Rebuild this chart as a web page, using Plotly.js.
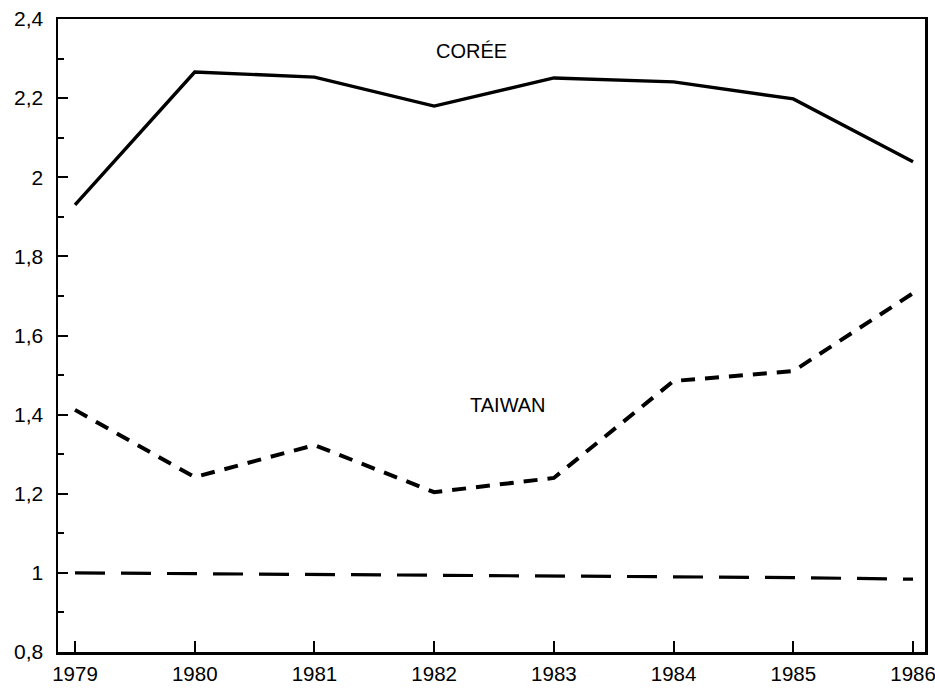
<!DOCTYPE html>
<html><head><meta charset="utf-8">
<script src="https://cdn.plot.ly/plotly-3.0.1.min.js"></script>
<style>html,body{margin:0;padding:0;background:#fff}#chart{width:935px;height:691px}</style>
</head><body><div id="chart"></div>
<script>
const years = [1979, 1980, 1981, 1982, 1983, 1984, 1985, 1986];
const coree = [1.930, 2.266, 2.253, 2.180, 2.251, 2.241, 2.198, 2.039];
const taiwan = [1.412, 1.242, 1.323, 1.204, 1.240, 1.485, 1.510, 1.707];
const reference = [1.000, 0.998, 0.996, 0.994, 0.992, 0.990, 0.988, 0.984];
const yTicks = [0.8, 1, 1.2, 1.4, 1.6, 1.8, 2, 2.2, 2.4];
const labels = [
  {text: 'CORÉE', x: 1982.31, y: 2.32},
  {text: 'TAIWAN', x: 1982.62, y: 1.425}
];

const traces = [
  {x: years, y: coree, mode: 'lines', line: {color: '#000', width: 3.4}},
  {x: years, y: taiwan, mode: 'lines', line: {color: '#000', width: 4, dash: '14px,10px'}},
  {x: years, y: reference, mode: 'lines', line: {color: '#000', width: 3.2, dash: '30px,16px'}}
];

const fam = 'Liberation Sans, Arial, sans-serif';
const layout = {
  width: 935, height: 691,
  margin: {l: 58, r: 10, t: 19, b: 39},
  paper_bgcolor: '#fff', plot_bgcolor: '#fff',
  showlegend: false,
  separators: ', ',
  font: {family: fam, size: 20, color: '#000'},
  xaxis: {
    range: [1978.858, 1986.1], tickvals: years, ticktext: years.map(String),
    ticks: 'inside', ticklen: 11, tickwidth: 2, tickcolor: '#000',
    showline: true, linecolor: '#000', linewidth: 2.5, mirror: true,
    showgrid: false, zeroline: false, ticklabelstandoff: 2,
    ticklabeloverflow: 'allow',
    tickfont: {size: 20.5, family: fam}
  },
  yaxis: {
    range: [0.8, 2.4], tickvals: yTicks,
    ticks: 'inside', ticklen: 10, tickwidth: 2, tickcolor: '#000',
    minor: {dtick: 0.1, tick0: 0.8, ticks: 'inside', ticklen: 6, tickwidth: 2, tickcolor: '#000', showgrid: false},
    showline: true, linecolor: '#000', linewidth: 2.5, mirror: true,
    showgrid: false, zeroline: false, ticklabelstandoff: 8,
    ticklabeloverflow: 'allow',
    tickfont: {size: 21, family: fam}
  },
  annotations: labels.map(l => ({
    text: l.text, x: l.x, y: l.y, xref: 'x', yref: 'y', showarrow: false,
    xanchor: 'center', yanchor: 'middle',
    font: {size: 20, family: fam, color: '#000'}
  }))
};

Plotly.newPlot('chart', traces, layout, {displayModeBar: false, staticPlot: true});
</script>
</body></html>
